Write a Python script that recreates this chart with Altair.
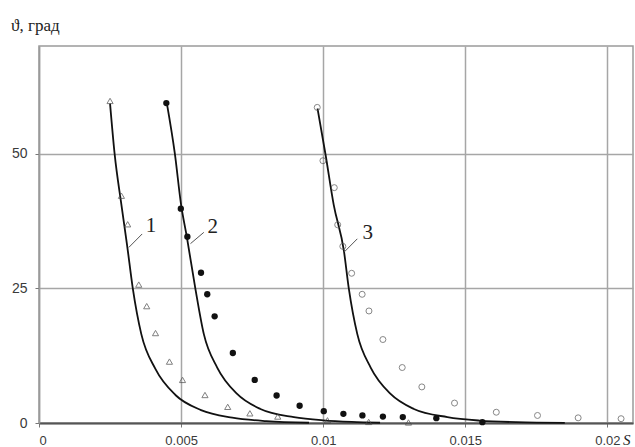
import altair as alt
import pandas as pd

# ---- data ----
s1_x = [0.0025, 0.0029, 0.00312, 0.00351, 0.00379, 0.0041, 0.00459, 0.00505, 0.00584, 0.00664, 0.00742, 0.0084, 0.01015, 0.0116, 0.013]
s1_y = [59.8, 42.2, 36.9, 25.7, 21.7, 16.7, 11.4, 8.0, 5.2, 3.0, 1.8, 1.2, 0.5, 0.2, 0.1]

s2_x = [0.00448, 0.00499, 0.00522, 0.0057, 0.00592, 0.00618, 0.00682, 0.00759, 0.00836, 0.00917, 0.01002, 0.01071, 0.01138, 0.0121, 0.0128, 0.01398, 0.0156]
s2_y = [59.4, 39.8, 34.6, 27.9, 23.9, 19.8, 13.0, 8.0, 5.1, 3.2, 2.2, 1.7, 1.4, 1.2, 1.1, 0.9, 0.15]

s3_x = [0.00979, 0.00999, 0.01039, 0.01051, 0.01069, 0.011, 0.01137, 0.01161, 0.0121, 0.01278, 0.01347, 0.01462, 0.01609, 0.01754, 0.01897, 0.02048]
s3_y = [58.6, 48.7, 43.7, 36.8, 32.8, 27.8, 23.9, 20.8, 15.5, 10.3, 6.7, 3.7, 2.0, 1.4, 0.96, 0.8]

c1_x = [0.0025, 0.00266, 0.0029, 0.0031, 0.0033, 0.0036, 0.0041, 0.0048, 0.0057, 0.0068, 0.008, 0.0095]
c1_y = [59.3, 50.0, 40.5, 33.0, 25.0, 16.5, 10.0, 5.2, 2.4, 1.0, 0.35, 0.05]

c2_x = [0.0045, 0.00478, 0.005, 0.0052, 0.0055, 0.0058, 0.00627, 0.00697, 0.00779, 0.00897, 0.01, 0.011, 0.012]
c2_y = [59.3, 50.0, 40.5, 34.6, 25.0, 16.5, 10.3, 5.4, 2.6, 1.1, 0.5, 0.2, 0.05]

c3_x = [0.0098, 0.01008, 0.01037, 0.01073, 0.0109, 0.0112, 0.01167, 0.01237, 0.01319, 0.01437, 0.0155, 0.0168, 0.0185]
c3_y = [58.4, 49.9, 40.5, 31.9, 25.0, 16.5, 10.3, 5.4, 2.6, 1.1, 0.45, 0.15, 0.03]

lab_text = ["1", "2", "3"]
lab_x = [0.00394, 0.00611, 0.01157]
lab_y = [36.5, 36.4, 35.2]
lead_x = [0.00363, 0.0058, 0.0112]
lead_y = [35.1, 35.4, 34.2]
lead_x2 = [0.00316, 0.00533, 0.01073]
lead_y2 = [32.6, 33.3, 31.7]

x_ticks = [0, 0.005, 0.01, 0.015, 0.02]
y_ticks = [0, 25, 50]

# ---- tables ----
pts1 = pd.DataFrame({"x": s1_x, "y": s1_y})
pts2 = pd.DataFrame({"x": s2_x, "y": s2_y})
pts3 = pd.DataFrame({"x": s3_x, "y": s3_y})
curves = pd.concat([
    pd.DataFrame({"x": c1_x, "y": c1_y, "c": "1"}),
    pd.DataFrame({"x": c2_x, "y": c2_y, "c": "2"}),
    pd.DataFrame({"x": c3_x, "y": c3_y, "c": "3"}),
])
labels = pd.DataFrame({"t": lab_text, "x": lab_x, "y": lab_y})
leaders = pd.DataFrame({"x": lead_x, "y": lead_y, "x2": lead_x2, "y2": lead_y2})

xs = alt.Scale(domain=[0, 0.0209], nice=False, zero=False)
ys = alt.Scale(domain=[0, 70], nice=False, zero=False)

X = alt.X("x:Q", scale=xs, title=None,
          axis=alt.Axis(values=x_ticks, format=".3~f", grid=True, gridColor="#a6a6a6",
                        gridWidth=1.5, domainColor="#555555", domainWidth=1.8,
                        tickColor="#777777", tickSize=4, labelPadding=7,
                        labelFont="Liberation Sans", labelFontSize=13, labelColor="#3a3a3a"))
Y = alt.Y("y:Q", scale=ys, title=None,
          axis=alt.Axis(values=y_ticks, grid=True, gridColor="#a6a6a6", gridWidth=1.5,
                        domainColor="#9a9a9a", domainWidth=1.5, tickColor="#777777",
                        tickSize=4, labelPadding=8, labelFont="Liberation Sans",
                        labelFontSize=14, labelColor="#3a3a3a"))

base_lines = alt.Chart(curves).mark_line(color="#111111", strokeWidth=1.8, interpolate="monotone").encode(
    x=X, y=Y, detail="c:N")

tri = alt.Chart(pts1).mark_point(shape="triangle-up", filled=False, color="#4a4a4a",
                                 size=38, strokeWidth=1).encode(
    x=alt.X("x:Q", scale=xs), y=alt.Y("y:Q", scale=ys))
dots = alt.Chart(pts2).mark_point(shape="circle", filled=True, color="#111111",
                                  size=40, opacity=1).encode(
    x=alt.X("x:Q", scale=xs), y=alt.Y("y:Q", scale=ys))
rings = alt.Chart(pts3).mark_point(shape="circle", filled=False, color="#555555",
                                   size=36, strokeWidth=1).encode(
    x=alt.X("x:Q", scale=xs), y=alt.Y("y:Q", scale=ys))

lead = alt.Chart(leaders).mark_rule(color="#555555", strokeWidth=1).encode(
    x=alt.X("x:Q", scale=xs), y=alt.Y("y:Q", scale=ys), x2="x2:Q", y2="y2:Q")
labs = alt.Chart(labels).mark_text(font="Liberation Serif", fontSize=21, color="#222222",
                                   align="center", baseline="middle").encode(
    x=alt.X("x:Q", scale=xs), y=alt.Y("y:Q", scale=ys), text="t:N")

ytitle = alt.Chart(pd.DataFrame({"t": ["ϑ, град"]})).mark_text(
    font="Liberation Serif", fontSize=17, color="#222222", align="left",
    baseline="alphabetic").encode(x=alt.value(-28), y=alt.value(-15), text="t:N")
xtitle = alt.Chart(pd.DataFrame({"t": ["S"]})).mark_text(
    font="Liberation Serif", fontSize=15, fontStyle="italic", color="#222222",
    align="left", baseline="alphabetic").encode(x=alt.value(584), y=alt.value(399), text="t:N")

chart = alt.layer(base_lines, tri, dots, rings, lead, labs, ytitle, xtitle).properties(
    width=594, height=377,
    autosize=alt.AutoSizeParams(type="none"),
    padding={"left": 39, "top": 46, "right": 2, "bottom": 24},
    background="white",
).configure_view(stroke="#9a9a9a", strokeWidth=1.5)

chart.save("out.html", embed_options={"renderer": "svg", "actions": False})
